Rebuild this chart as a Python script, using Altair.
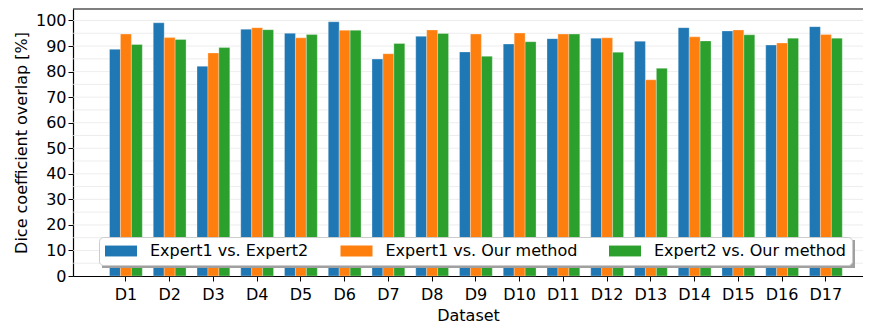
import altair as alt
import pandas as pd

datasets = [f"D{i}" for i in range(1, 18)]
series = ["Expert1 vs. Expert2", "Expert1 vs. Our method", "Expert2 vs. Our method"]
colors = ["#1f77b4", "#ff7f0e", "#2ca02c"]

e1_vs_e2 = [88.7, 99.1, 82.1, 96.6, 95.0, 99.5, 84.9, 93.8, 87.7, 90.8, 92.9, 93.1, 91.9, 97.2, 95.9, 90.4, 97.6]
e1_vs_our = [94.7, 93.3, 87.3, 97.2, 93.2, 96.2, 87.0, 96.3, 94.7, 95.1, 94.7, 93.2, 76.8, 93.6, 96.3, 91.2, 94.5]
e2_vs_our = [90.6, 92.6, 89.4, 96.4, 94.5, 96.2, 91.0, 94.9, 86.0, 91.7, 94.7, 87.6, 81.3, 92.0, 94.4, 93.1, 93.1]

y_ticks = list(range(0, 101, 10))
grid_vals = list(range(5, 101, 5))

rows = []
for name, vals in zip(series, [e1_vs_e2, e1_vs_our, e2_vs_our]):
    for d, v in zip(datasets, vals):
        rows.append({"Dataset": d, "Series": name, "Frame": "frame", "Value": v})
df = pd.DataFrame(rows)

FONT = "DejaVu Sans"
FS = 16
yscale = alt.Scale(domain=[0, 104.5], nice=False, zero=True)
yaxis = alt.Axis(title="Dice coefficient overlap [%]", values=y_ticks, grid=False,
                 labelFontSize=FS, titleFontSize=FS, labelFont=FONT, titleFont=FONT,
                 labelColor="black", titleColor="black", titleFontWeight="normal",
                 tickSize=5, tickColor="black", domain=True, domainColor="black",
                 domainWidth=1.2, labelPadding=2, titlePadding=6)

grid = alt.Chart(pd.DataFrame({"g": grid_vals})).mark_rule(
    color="#e8e8e8", strokeWidth=0.8
).encode(y=alt.Y("g:Q", scale=yscale, axis=yaxis))

top_spine = alt.Chart(pd.DataFrame({"g": [0]})).mark_rule(
    color="black", strokeWidth=1.2
).encode(y=alt.value(0))

bars = alt.Chart(df).mark_bar(
    stroke="white", strokeWidth=0.6, strokeOpacity=0.5
).encode(
    x=alt.X(
        "Dataset:N", sort=datasets,
        scale=alt.Scale(paddingInner=0.25, paddingOuter=0.654, align=0.638),
        axis=alt.Axis(title="Dataset", labelAngle=0, labelFontSize=FS, titleFontSize=FS,
                      labelFont=FONT, titleFont=FONT, labelColor="black", titleColor="black",
                      titleFontWeight="normal", tickSize=5, tickColor="black", domain=True,
                      domainColor="black", domainWidth=1.2, labelPadding=5, titlePadding=5),
    ),
    xOffset=alt.XOffset("Series:N", sort=series, scale=alt.Scale(paddingInner=0, paddingOuter=0)),
    y=alt.Y("Value:Q", scale=yscale, axis=yaxis),
    color=alt.Color(
        "Series:N", sort=series,
        scale=alt.Scale(domain=series, range=colors),
        legend=alt.Legend(
            orient="none", legendX=26, legendY=228, direction="horizontal", title=None,
            symbolType="M-1,-0.68L3,-0.68L3,0.68L-1,0.68Z", symbolSize=256,
            symbolStrokeWidth=0, symbolOpacity=1, labelFontSize=FS, labelFont=FONT,
            labelColor="black", labelOffset=29, labelLimit=400, columnPadding=31.5,
            padding=6, fillColor="white", strokeColor="#cccccc", cornerRadius=4, zindex=2,
        ),
    ),
    # drop shadow of the legend frame (single entry, no label)
    opacity=alt.Opacity(
        "Frame:N",
        scale=alt.Scale(domain=["frame"], range=[1]),
        legend=alt.Legend(
            orient="none", legendX=29, legendY=231, title=None, labelExpr="''",
            labelFontSize=1, symbolType="M-1,-1H752V27H-1Z", symbolSize=4,
            symbolFillColor="#a0a0a0", symbolStrokeWidth=0, symbolOpacity=1,
            padding=0, zindex=1,
        ),
    ),
)

chart = alt.layer(grid, top_spine, bars).properties(
    width=790, height=267,
    autosize=alt.AutoSizeParams(type="none"),
    padding={"left": 65, "top": 1, "right": 0, "bottom": 50},
).configure_view(stroke=None)

chart.save("out.html", embed_options={"renderer": "svg", "actions": False})
